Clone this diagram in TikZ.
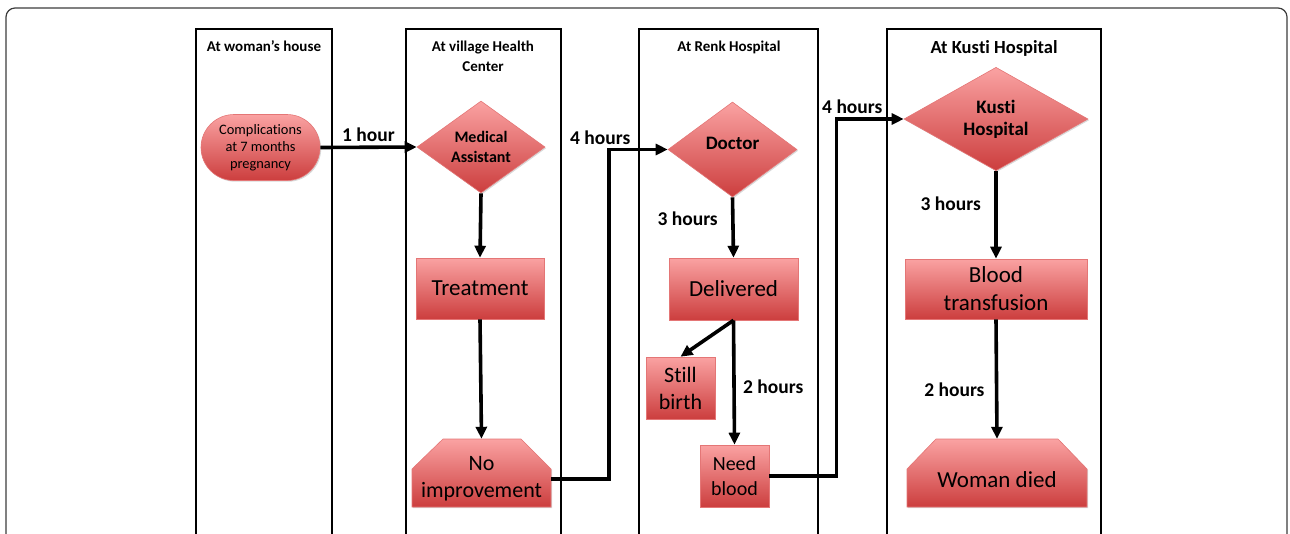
\documentclass[tikz,border=0pt]{standalone}
\usepackage{fontspec}
\setmainfont{Carlito}[Ligatures={TeX,NoCommon,NoContextual,NoRequired}]
\usetikzlibrary{arrows.meta,shapes.geometric,shadows}

\definecolor{boxtop}{RGB}{250,162,162}
\definecolor{boxbot}{RGB}{204,62,62}
\definecolor{boxline}{RGB}{228,118,118}
\definecolor{framegray}{RGB}{60,60,60}

\newcommand\hdrfont{\fontsize{15}{20}\selectfont\bfseries}
\newcommand\kustihdrfont{\fontsize{18.5}{22}\selectfont\bfseries}
\newcommand\timefont{\fontsize{19.5}{23}\selectfont\bfseries}
\newcommand\smlfont{\fontsize{14.4}{17}\selectfont}
\newcommand\decfont{\fontsize{16}{20}\selectfont\bfseries}
\newcommand\bigdecfont{\fontsize{19}{22}\selectfont\bfseries}
\newcommand\boxfont{\fontsize{23}{28}\selectfont}
\newcommand\midboxfont{\fontsize{22}{27}\selectfont}
\newcommand\smlboxfont{\fontsize{20}{25}\selectfont}

\begin{document}
\begin{tikzpicture}[x=1pt,y=-1pt,
    lane/.style={draw,line width=2.6pt},
    redbox/.style={draw=boxline,line width=0.6pt,top color=boxtop,bottom color=boxbot,
      drop shadow={shadow xshift=1.2pt,shadow yshift=-1.2pt,opacity=0.3}},
    rect/.style={redbox,rectangle,align=center,inner sep=0pt},
    dec/.style={redbox,diamond,align=center,inner sep=0pt},
    flow/.style={line width=3.6pt,-{Triangle[length=12pt,width=11pt]}},
    time/.style={font=\timefont}]
        \useasboundingbox (0,0) rectangle (1290,533);

        % Frame
        \draw[framegray,line width=1.2pt,rounded corners=9pt] (6,8) rectangle (1287,570);

        % Lanes
        \draw[lane] (196,29) rectangle (332,570);
        \draw[lane] (406,29) rectangle (561,570);
        \draw[lane] (639,29) rectangle (818,570);
        \draw[lane] (887,29) rectangle (1101,570);

        \node[font=\hdrfont] (hhouse) at (264,46) {At woman’s house};
        \node[font=\hdrfont,align=center] (hvillage) at (483,56) {At village Health\\Center};
        \node[font=\hdrfont] (hrenk) at (729,47) {At Renk Hospital};
        \node[font=\kustihdrfont] (hkusti) at (994,48) {At Kus\kern0pt ti Hospital};

        % Chamfered boxes
        \shade[redbox] (412,507) -- (412,469) -- (443,439) -- (521,439) -- (551,469) -- (551,507) -- cycle;
        \shade[redbox] (907,507) -- (907,469) -- (936,439) -- (1058,439) -- (1087,469) -- (1087,507) -- cycle;

        % Steps
        \node[rect,rounded corners=33pt,minimum width=119pt,minimum height=66pt,font=\smlfont] (compl) at (260.5,147.5) {Complications\\at 7 months\\pregnancy};
        \node[dec,minimum width=128pt,minimum height=92pt,font=\decfont] (medass) at (481,147) {Medical\\Assistant};
        \node[rect,minimum width=128pt,minimum height=61pt,font=\boxfont] (treat) at (480,288.5) {Treatment};
        \node[minimum width=139pt,minimum height=80pt,align=center,inner sep=0pt,font=\midboxfont] (noimp) at (481.5,479) {No\\improvement};

        \node[dec,minimum width=129pt,minimum height=95pt,text depth=13pt,font=\bigdecfont] (doctor) at (732.5,149.5) {Doctor};
        \node[rect,minimum width=129pt,minimum height=62pt,font=\boxfont] (deliv) at (733.5,289) {Delivered};
        \node[rect,minimum width=69pt,minimum height=62pt,font=\midboxfont] (stillb) at (680.5,388) {S\kern0pt t\kern0pt ill\\birth};
        \node[rect,minimum width=69pt,minimum height=62pt,font=\smlboxfont] (needb) at (734.5,476) {Need\\blood};

        \node[dec,minimum width=184pt,minimum height=101pt,font=\bigdecfont] (kusti) at (996,119) {Kus\kern0pt ti\\Hospital};
        \node[rect,minimum width=182pt,minimum height=60pt,font=\boxfont] (transf) at (996,289) {Blood\\transfusion};
        \node[minimum width=180pt,minimum height=68pt,text height=29pt,text depth=0pt,inner sep=0pt,font=\boxfont] (wdied) at (997,473) {Woman died};

        % Connectors
        \draw[flow] (compl.east) -- node[above,time] {1 hour} (medass.west);
        \draw[flow] (medass.south) -- (treat.north);
        \draw[flow] (treat.south) -- (noimp.north);
        \draw[flow] (noimp.east) -- ++(58,0) |- node[pos=0.5,above,xshift=-9pt,time] {4 hours} (doctor.west);

        \draw[flow] (doctor.south) -- node[pos=0.35,left=10pt,time] {3 hours} (deliv.north);
        \draw[flow] (deliv.south) -- (stillb.north);
        \draw[flow] (deliv.south) -- node[pos=0.53,right=4pt,time] {2 hours} (needb.north);
        \draw[flow] (needb.east) -- ++(67,0) |- node[pos=0.5,above,xshift=16pt,time] {4 hours} (kusti.west);

        \draw[flow] (kusti.south) -- node[pos=0.37,left=10pt,time] {3 hours} (transf.north);
        \draw[flow] (transf.south) -- node[pos=0.59,left=7pt,time] {2 hours} (wdied.north);

    \end{tikzpicture}
\end{document}
